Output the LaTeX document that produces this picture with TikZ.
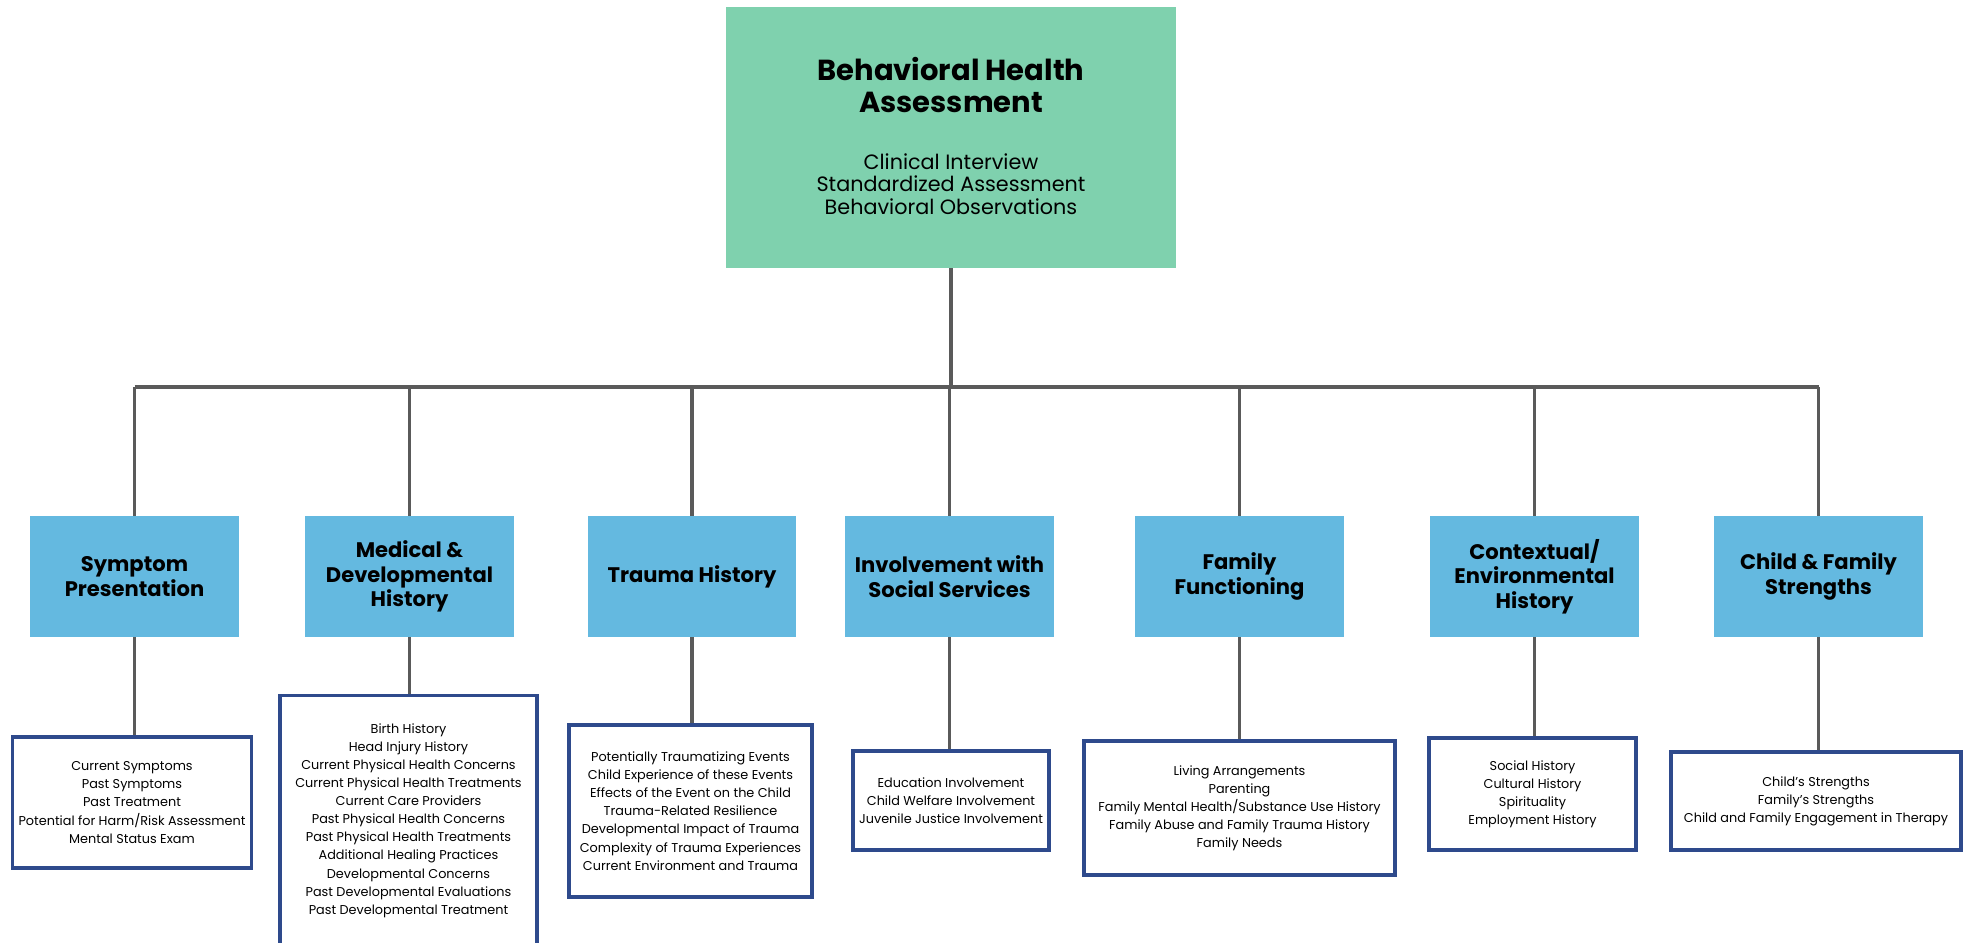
\documentclass[tikz,border=0pt]{standalone}
\usepackage{fontspec}
\setmainfont{Poppins}
\usepackage{tikz}
\usetikzlibrary{positioning}
\definecolor{mint}{HTML}{7FD1AE}
\definecolor{sky}{HTML}{64B9E0}
\definecolor{navy}{HTML}{2E4A8C}
\definecolor{wire}{HTML}{5A5A5A}
\tikzstyle{link}= [wire, line width=2.1pt]
\tikzstyle{bus}= [wire, line width=2.8pt]

\begin{document}
\begin{tikzpicture}[
    x=0.02cm, y=-0.02cm,
    topbox/.style={
    fill=mint, minimum width=9cm, minimum height=5.22cm
    },
    catbox/.style={
    fill=sky, minimum width=4.18cm, minimum height=2.42cm, align=center,
    font=\bfseries\fontsize{12}{13.9}\selectfont
    },
    listbox/.style={
    draw=navy, line width=1.8pt, fill=white, align=center,
    font=\fontsize{7.3}{10.3}\selectfont
    }
  ]
  \useasboundingbox (0,0) rectangle (1969,943);
  \clip (0,0) rectangle (1969,943);

  % head of the chart
  \node[topbox] (top) at (951,137.5) {};
  \node[align=center,font=\bfseries\fontsize{16.5}{17.8}\selectfont] (topTitle) at (951,85) {Behavioral Health\\Assessment};
  \node[align=center,font=\fontsize{11.8}{12.9}\selectfont] (topSub) at (951,184) {Clinical Interview\\Standardized Assessment\\Behavioral Observations};
  \coordinate (hub) at (951,387);

  % second row
  \node[catbox] (symp) at (134.5,576.5) {Symptom\\Presentation};
  \node[catbox] (med) at (409.5,576.5) {Medical \&\\Developmental\\History};
  \node[catbox] (trauma) at (692,576.5) {Trauma History};
  \node[catbox] (social) at (949.5,576.5) {Involvement with\\Social Services};
  \node[catbox] (family) at (1239.5,576.5) {Family\\Functioning};
  \node[catbox] (context) at (1534.5,576.5) {Contextual/\\Environmental\\History};
  \node[catbox] (strength) at (1818.5,576.5) {Child \& Family\\Strengths};

  % lists
  \node[listbox,minimum width=4.76cm,minimum height=2.62cm] (sympL) at (132,802.5) {Current Symptoms\\Past Symptoms\\Past Treatment\\Potential for Harm/Risk Assessment\\Mental Status Exam};
  \node[listbox,minimum width=5.14cm,minimum height=5.0cm,anchor=north] (medL) at (408.5,694) {Birth History\\Head Injury History\\Current Physical Health Concerns\\Current Physical Health Treatments\\Current Care Providers\\Past Physical Health Concerns\\Past Physical Health Treatments\\Additional Healing Practices\\Developmental Concerns\\Past Developmental Evaluations\\Past Developmental Treatment};
  \node[listbox,minimum width=4.86cm,minimum height=3.44cm] (traumaL) at (690.5,811) {Potentially Traumatizing Events\\Child Experience of these Events\\Effects of the Event on the Child\\Trauma-Related Resilience\\Developmental Impact of Trauma\\Complexity of Trauma Experiences\\Current Environment and Trauma};
  \node[listbox,minimum width=3.92cm,minimum height=1.98cm] (socialL) at (951,800.5) {Education Involvement\\Child Welfare Involvement\\Juvenile Justice Involvement};
  \node[listbox,minimum width=6.22cm,minimum height=2.68cm] (familyL) at (1239.5,808) {Living Arrangements\\Parenting\\Family Mental Health/Substance Use History\\Family Abuse and Family Trauma History\\Family Needs};
  \node[listbox,minimum width=4.14cm,minimum height=2.24cm] (contextL) at (1532.5,794) {Social History\\Cultural History\\Spirituality\\Employment History};
  \node[listbox,minimum width=5.8cm,minimum height=1.96cm] (strengthL) at (1816,801) {Child's Strengths\\Family's Strengths\\Child and Family Engagement in Therapy};

  % connectors
  \draw[link] (top) -- (hub);
  \draw[bus] (symp.north |- hub) -- (strength.north |- hub);
  \foreach \n in {symp,med,trauma,social,family,context,strength}{
    \draw[link] (\n.north |- hub) -- (\n.north);
    \draw[link] (\n.south) -- (\n.south |- \n L.north);
  }

\end{tikzpicture}
\end{document}
